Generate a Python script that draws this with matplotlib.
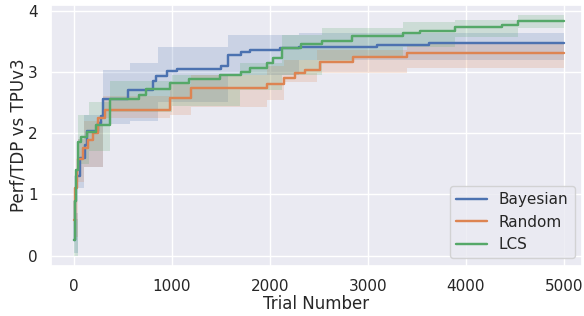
import matplotlib
matplotlib.use("Agg")
import matplotlib.pyplot as plt
import seaborn as sns

sns.set_theme(style="darkgrid", context="notebook")

# best-so-far curves (step, post)
bay_x = [0, 10, 25, 68, 112, 130, 248, 282, 300, 555, 810, 840, 950, 1050, 1507, 1575, 1710, 1795, 2100, 2300, 3090, 3630, 5000]
bay_y = [0.26, 0.9, 1.3, 1.6, 1.81, 2.03, 2.17, 2.28, 2.55, 2.7, 2.85, 2.93, 3.02, 3.05, 3.09, 3.28, 3.32, 3.36, 3.39, 3.41, 3.44, 3.47, 3.47]

rnd_x = [0, 15, 30, 45, 95, 146, 197, 248, 316, 980, 1200, 1970, 2150, 2255, 2360, 2510, 2850, 3400, 5000]
rnd_y = [0.58, 1.1, 1.4, 1.57, 1.76, 1.89, 2.0, 2.25, 2.38, 2.58, 2.74, 2.8, 2.9, 2.98, 3.03, 3.16, 3.25, 3.31, 3.31]

lcs_x = [0, 10, 25, 45, 78, 130, 230, 367, 670, 740, 980, 1180, 1490, 1710, 1795, 1970, 2035, 2120, 2320, 2530, 2835, 3360, 3530, 3890, 4370, 4530, 5000]
lcs_y = [0.25, 0.9, 1.4, 1.86, 1.94, 2.02, 2.14, 2.55, 2.63, 2.72, 2.82, 2.89, 2.95, 2.99, 3.07, 3.14, 3.23, 3.39, 3.45, 3.51, 3.58, 3.63, 3.67, 3.73, 3.77, 3.83, 3.83]

# spread bands
bay_band_x = [0, 40, 100, 300, 570, 860, 1575, 2300, 5000]
bay_lo = [0.05, 1.1, 1.45, 2.15, 2.2, 2.5, 2.95, 3.2, 3.23]
bay_hi = [0.7, 1.9, 2.3, 3.03, 3.15, 3.4, 3.6, 3.63, 3.65]

rnd_band_x = [0, 40, 100, 300, 980, 1200, 1970, 2150, 2480, 3400, 5000]
rnd_lo = [0.3, 1.2, 1.45, 2.25, 2.3, 2.43, 2.54, 2.84, 2.98, 3.07, 3.07]
rnd_hi = [0.9, 1.9, 2.2, 2.6, 2.8, 2.95, 3.1, 3.2, 3.35, 3.45, 3.47]

lcs_band_x = [0, 40, 150, 370, 1000, 1700, 2120, 2530, 2835, 3360, 3890, 4530, 5000]
lcs_lo = [0.0, 1.5, 1.7, 2.35, 2.45, 2.7, 2.95, 3.15, 3.25, 3.4, 3.57, 3.72, 3.72]
lcs_hi = [0.6, 2.3, 2.5, 2.85, 2.95, 3.15, 3.6, 3.72, 3.72, 3.82, 3.85, 3.93, 3.93]

colors = sns.color_palette("deep")

fig, ax = plt.subplots(figsize=(5.84, 3.16), dpi=100)
fig.subplots_adjust(left=0.087, right=0.997, top=0.984, bottom=0.158)

series = [
    ("Bayesian", bay_x, bay_y, bay_band_x, bay_lo, bay_hi, colors[0]),
    ("Random", rnd_x, rnd_y, rnd_band_x, rnd_lo, rnd_hi, colors[1]),
    ("LCS", lcs_x, lcs_y, lcs_band_x, lcs_lo, lcs_hi, colors[2]),
]
for name, x, y, bx, lo, hi, c in series:
    ax.fill_between(bx, lo, hi, step="post", color=c, alpha=0.2, linewidth=0)
for name, x, y, bx, lo, hi, c in series:
    ax.step(x, y, where="post", color=c, linewidth=1.75, label=name)

ax.set_xlim(-235, 5190)
ax.set_ylim(-0.17, 4.09)
ax.set_xticks([0, 1000, 2000, 3000, 4000, 5000])
ax.set_yticks([0, 1, 2, 3, 4])
ax.set_xlabel("Trial Number", labelpad=0.5)
ax.set_ylabel("Perf/TDP vs TPUv3", labelpad=0.5)
ax.legend(loc="lower right")

fig.savefig("out.png", dpi=100)
